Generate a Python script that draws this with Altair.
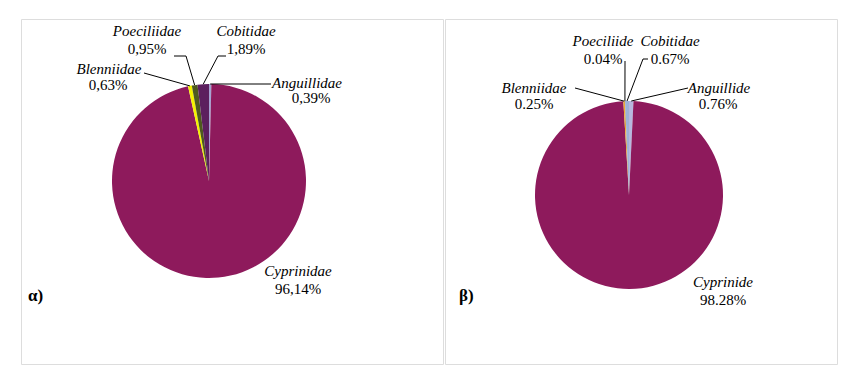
import altair as alt
import pandas as pd

# ---- data ----
left_names = ["Anguillidae", "Cyprinidae", "Blenniidae", "Poeciliidae", "Cobitidae"]
left_values = [0.39, 96.14, 0.63, 0.95, 1.89]
left_colors = ["#A6A3D2", "#8E1A5C", "#F4F200", "#4E5A1E", "#5C1F5E"]

right_names = ["Anguillide", "Cyprinide", "Blenniidae", "Poeciliide", "Cobitidae"]
right_values = [0.76, 98.28, 0.25, 0.04, 0.67]
right_colors = ["#B7B7DE", "#8E1A5C", "#F0A830", "#4E5A1E", "#9DB2D8"]

panel_tags = ["α)", "β)"]

# ---- layout (panel-relative pixels) ----
FONT = "Liberation Serif, Times New Roman, DejaVu Serif, serif"
H = 345
left_layout = dict(
    width=422, cx=188, cy=162, r=97, tag_x=7, tag_y=277,
    name_x=[286, 277, 88, 126, 225], name_y=[64, 252, 50, 12, 12],
    pct_x=[290, 277, 87, 126, 225], pct_y=[79, 270, 66, 30, 30],
    ax=[250, None, 123, 153, 205], ay=[65, None, 54, 37, 37],
    ex=[250, None, 123, 165, 197], ey=[65, None, 54, 37, 37],
)
right_layout = dict(
    width=392, cx=184, cy=176, r=94, tag_x=14, tag_y=277,
    name_x=[274, 278, 89, 158, 225], name_y=[69, 263, 69, 22, 22],
    pct_x=[273, 278, 89, 158, 225], pct_y=[85, 281, 85, 40, 40],
    ax=[243, None, 130, 180, 203], ay=[69, None, 69, 42, 40],
    ex=[243, None, 130, 180, 198], ey=[69, None, 69, 42, 40],
)


def panel(names, values, colors, comma, lay, tag):
    pct = [f"{v:.2f}%".replace(".", ",") if comma else f"{v:.2f}%" for v in values]
    df = pd.DataFrame({
        "idx": list(range(len(names))), "name": names, "value": values,
        "color": colors, "pct": pct,
        "nx": lay["name_x"], "ny": lay["name_y"],
        "px": lay["pct_x"], "py": lay["pct_y"],
        "ax": lay["ax"], "ay": lay["ay"], "ex": lay["ex"], "ey": lay["ey"],
    })
    base = alt.Chart(df)
    cx, cy, r = lay["cx"], lay["cy"], lay["r"]

    pie = base.mark_arc(radius=r).encode(
        theta=alt.Theta("value:Q", stack=True),
        order=alt.Order("idx:Q"),
        color=alt.Color("color:N", scale=None),
        x=alt.value(cx), y=alt.value(cy),
    )

    geo = base.transform_window(
        cum="sum(value)", sort=[alt.SortField("idx")], frame=[None, 0]
    ).transform_joinaggregate(total="sum(value)").transform_calculate(
        mid="(datum.cum - datum.value/2)/datum.total*2*PI",
    ).transform_calculate(
        qx=f"{cx} + {r}*sin(datum.mid)",
        qy=f"{cy} - {r}*cos(datum.mid)",
    ).transform_filter("isValid(datum.ax)")

    seg1 = geo.mark_rule(color="black", strokeWidth=1).encode(
        x=alt.X("ax:Q", scale=None), y=alt.Y("ay:Q", scale=None),
        x2="ex:Q", y2="ey:Q",
    )
    seg2 = geo.mark_rule(color="black", strokeWidth=1).encode(
        x=alt.X("ex:Q", scale=None), y=alt.Y("ey:Q", scale=None),
        x2="qx:Q", y2="qy:Q",
    )

    names_t = base.mark_text(font=FONT, fontSize=15, fontStyle="italic",
                             baseline="middle", align="center", color="black").encode(
        x=alt.X("nx:Q", scale=None), y=alt.Y("ny:Q", scale=None), text="name:N")
    pct_t = base.mark_text(font=FONT, fontSize=15, baseline="middle",
                           align="center", color="black").encode(
        x=alt.X("px:Q", scale=None), y=alt.Y("py:Q", scale=None), text="pct:N")

    tag_t = alt.Chart(pd.DataFrame({"t": [tag]})).mark_text(
        font=FONT, fontSize=17, fontWeight="bold", align="left", baseline="middle",
        color="black").encode(
        x=alt.value(lay["tag_x"]), y=alt.value(lay["tag_y"]), text="t:N")

    return alt.layer(pie, seg1, seg2, names_t, pct_t, tag_t).properties(
        width=lay["width"], height=H)


left = panel(left_names, left_values, left_colors, True, left_layout, panel_tags[0])
right = panel(right_names, right_values, right_colors, False, right_layout, panel_tags[1])

chart = alt.hconcat(left, right, spacing=0).properties(
    padding={"left": 12, "top": 10, "right": 0, "bottom": 0}
).configure_view(stroke="#808080", strokeWidth=1).configure(background="white")

chart.save("out.html", embed_options={"renderer": "svg", "actions": False})
